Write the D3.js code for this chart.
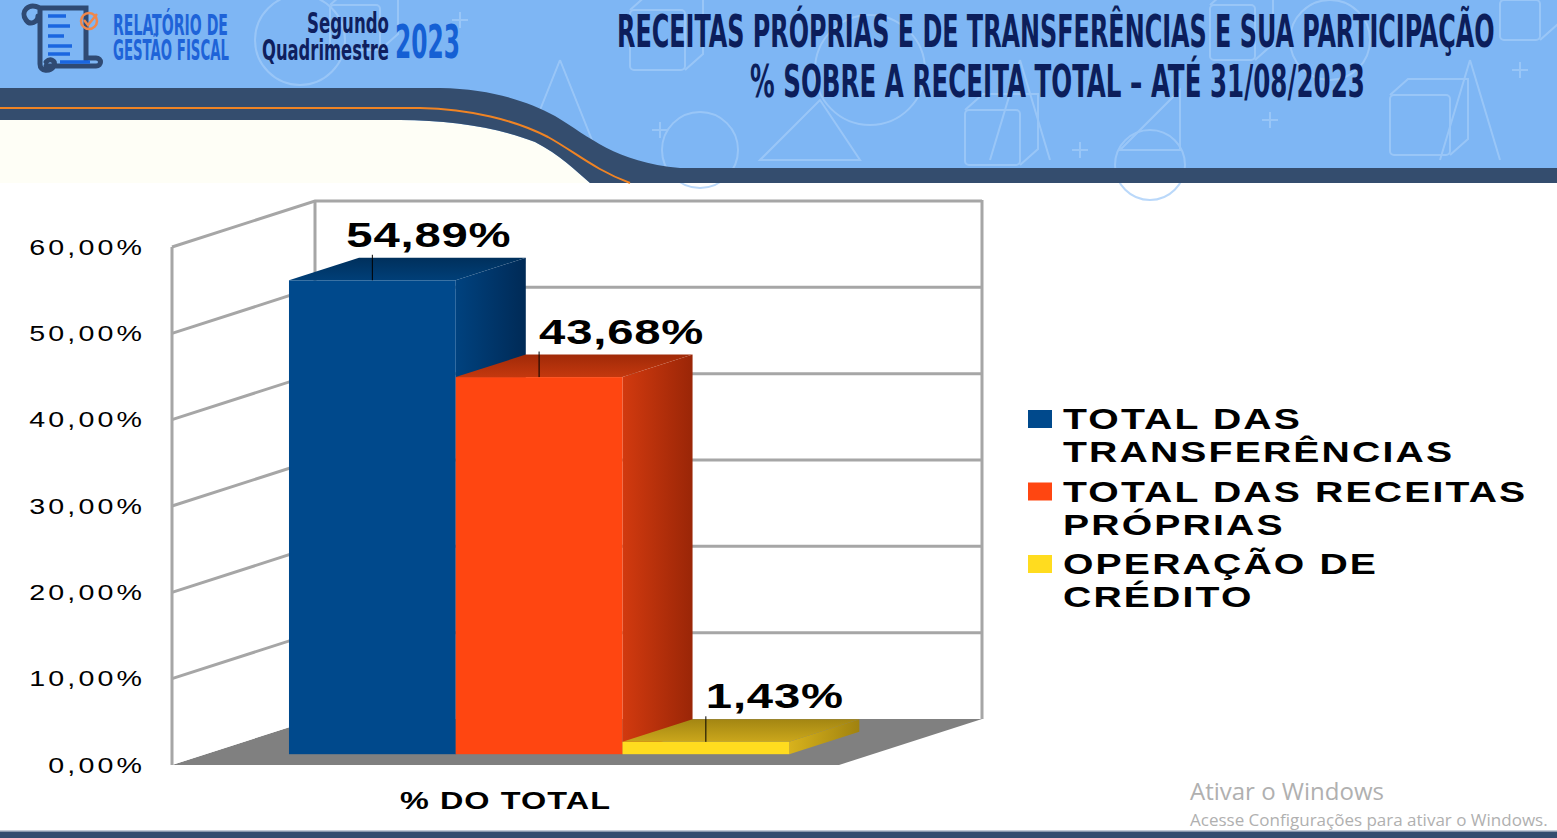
<!DOCTYPE html>
<html>
<head>
<meta charset="utf-8">
<script src="https://cdn.jsdelivr.net/npm/d3@7/dist/d3.min.js"></script>
<style>
  html, body { margin: 0; padding: 0; background: #fff; overflow: hidden; }
  svg { display: block; }
</style>
</head>
<body>
<script>
// chart data
var categories = ["% DO TOTAL"];
var series = ["TOTAL DAS TRANSFERÊNCIAS", "TOTAL DAS RECEITAS PRÓPRIAS", "OPERAÇÃO DE CRÉDITO"];
var values = [54.89, 43.68, 1.43];
var yTicks = [0, 10, 20, 30, 40, 50, 60];
var legendLines = [["TOTAL DAS", "TRANSFERÊNCIAS"], ["TOTAL DAS RECEITAS", "PRÓPRIAS"], ["OPERAÇÃO DE", "CRÉDITO"]];
var titleLines = ["RECEITAS PRÓPRIAS E DE TRANSFERÊNCIAS E SUA PARTICIPAÇÃO", "% SOBRE A RECEITA TOTAL –  ATÉ 31/08/2023"];

// colours per series: front, side (light->dark), top (front->back)
var colors = [
  {front: "#00498c", side: ["#00427f", "#002a56"], top: ["#003f78", "#00305c"]},
  {front: "#ff4611", side: ["#d23a0f", "#9a2607"], top: ["#c4380e", "#a02a08"]},
  {front: "#ffdc1f", side: ["#d8b21c", "#a0820f"], top: ["#cba71c", "#a38612"]}
];

var W = 1557, H = 838;
var ptBR = d3.formatLocale({decimal: ",", thousands: ".", grouping: [3], currency: ["R$", ""]});
var fmt2 = ptBR.format(".2f");
var pct = function(v) { return fmt2(v) + "%"; };

var svg = d3.select("body").append("svg").attr("width", W).attr("height", H);
var defs = svg.append("defs");

// ---------- header ----------
var head = svg.append("g");
head.append("rect").attr("x", 0).attr("y", 0).attr("width", W).attr("height", 183).attr("fill", "#7eb6f4");

// faint school doodles
var doodle = head.append("g").attr("fill", "none").attr("stroke", "#a3ccf9").attr("stroke-width", 2).attr("opacity", 0.75);
[[300, 40, 45], [870, 70, 55], [1330, 40, 40], [700, 150, 38], [1150, 165, 35]].forEach(function(c) {
  doodle.append("circle").attr("cx", c[0]).attr("cy", c[1]).attr("r", c[2]);
});
[[630, 10, 55, 60], [965, 110, 55, 55], [1390, 95, 60, 60], [1210, 5, 45, 55], [1500, 0, 40, 40], [330, 5, 50, 45]].forEach(function(r) {
  doodle.append("rect").attr("x", r[0]).attr("y", r[1]).attr("width", r[2]).attr("height", r[3]).attr("rx", 4);
  doodle.append("path").attr("d", "M" + r[0] + "," + r[1] + "l18,-16h" + r[2] + "v" + r[3] + "l-18,16");
});
[[660, 130], [1080, 150], [1270, 120], [1520, 70], [460, 20], [160, 120]].forEach(function(p) {
  doodle.append("path").attr("d", "M" + (p[0] - 8) + "," + p[1] + "h16M" + p[0] + "," + (p[1] - 8) + "v16");
});
doodle.append("path").attr("d", "M560,60 L520,160 M560,60 L600,160 M1020,60 L990,160 M1020,60 L1050,160 M1470,60 L1440,160 M1470,60 L1500,160");
doodle.append("path").attr("d", "M20,140 L90,110 L140,130 M760,160 L820,100 L860,160 Z M1120,150 L1180,90 L1180,150 Z");

// cream strip under the band, then the band and its orange line
head.append("path")
  .attr("d", "M0,120 L400,120 C450,120 500,128 535,142 C560,155 575,170 590,183 L0,183 Z")
  .attr("fill", "#fefef6");
head.append("path")
  .attr("d", "M0,88 L440,88 C490,89 525,100 555,116 C590,137 615,162 680,168 L1557,168 L1557,183 L590,183 C575,170 560,155 535,142 C500,128 450,120 400,120 L0,120 Z")
  .attr("fill", "#344d6e");
head.append("path")
  .attr("d", "M0,108 L420,108 C470,109 515,120 548,137 C575,152 595,170 630,183")
  .attr("fill", "none").attr("stroke", "#f08424").attr("stroke-width", 2);

// logo scroll
var logo = head.append("g");
logo.append("path")
  .attr("d", "M40,8 H86 V60 M40,8 C28,2 20,12 26,20 C30,26 38,22 38,16 M40,8 V64 C40,72 50,72 54,66 C56,60 50,58 46,62 M46,66 H96 C102,66 102,58 96,58 H86")
  .attr("fill", "none").attr("stroke", "#2f4a73").attr("stroke-width", 5).attr("stroke-linecap", "round");
[[48, 16, 18], [48, 26, 22], [48, 36, 16], [48, 46, 24], [48, 54, 22], [60, 62, 30]].forEach(function(l) {
  logo.append("line").attr("x1", l[0]).attr("x2", l[0] + l[2]).attr("y1", l[1]).attr("y2", l[1])
    .attr("stroke", "#1a66e0").attr("stroke-width", 3.5);
});
logo.append("circle").attr("cx", 89).attr("cy", 21).attr("r", 8).attr("fill", "none").attr("stroke", "#f0874a").attr("stroke-width", 2.5);
logo.append("path").attr("d", "M84,20 l4,5 l9,-11").attr("fill", "none").attr("stroke", "#f0874a").attr("stroke-width", 2.5);

// condensed header text: measure, then squeeze horizontally to the wanted width
var narrow = "'Liberation Sans Narrow', 'DejaVu Sans Condensed', 'Liberation Sans', sans-serif";
function headText(txt, x, y, len, size, color) {
  var t = head.append("text").attr("x", 0).attr("y", 0).text(txt)
    .attr("style", "font-family:" + narrow + ";font-size:" + size + "px;font-weight:bold;fill:" + color);
  var natural = t.node().getComputedTextLength();
  t.attr("transform", "translate(" + x + "," + y + ") scale(" + (len / natural) + ",1)");
}
headText("RELATÓRIO  DE", 113, 35, 115, 29, "#1e63d8");
headText("GESTÃO FISCAL", 113, 60, 116, 29, "#1e63d8");
headText("Segundo", 307, 33, 82, 29, "#0f1f5e");
headText("Quadrimestre", 262, 60, 127, 29, "#0f1f5e");
headText("2023", 395, 58, 65, 47, "#1560d4");
headText(titleLines[0], 617, 47, 878, 44, "#0c1e5b");
headText(titleLines[1], 750, 97, 615, 44, "#0c1e5b");

// ---------- 3D bar chart ----------
var DX = 143, DY = -46;       // full depth of the box
var z0 = 0.235, z1 = 0.725;   // bar depth inside the box
var y = d3.scaleLinear().domain([0, 60]).range([765, 247]);
var x0 = d3.scaleBand().domain(categories).range([172, 839]);
var x1 = d3.scaleBand().domain(series).range([0, x0.bandwidth()]).paddingInner(0).paddingOuter(0.5);
var xL = x0.range()[0], xR = x0.range()[1];
var grid = "#a6a6a6";

var chart = svg.append("g");
// floor
chart.append("path")
  .attr("d", "M" + xL + "," + y(0) + "L" + (xL + DX) + "," + (y(0) + DY) + "L" + (xR + DX) + "," + (y(0) + DY) + "L" + xR + "," + y(0) + "Z")
  .attr("fill", "#808080");
// back wall + side wall
chart.append("rect").attr("x", xL + DX).attr("y", y(60) + DY).attr("width", xR - xL).attr("height", y(0) - y(60)).attr("fill", "#fff");
chart.append("path")
  .attr("d", "M" + xL + "," + y(60) + "L" + (xL + DX) + "," + (y(60) + DY) + "L" + (xL + DX) + "," + (y(0) + DY) + "L" + xL + "," + y(0) + "Z")
  .attr("fill", "#fff");

var gl = chart.append("g").attr("stroke", grid).attr("stroke-width", 3).attr("fill", "none");
yTicks.filter(function(v) { return v > 0; }).forEach(function(v) {
  gl.append("path").attr("d", "M" + xL + "," + y(v) + "L" + (xL + DX) + "," + (y(v) + DY) + "L" + (xR + DX) + "," + (y(v) + DY));
});
gl.append("line").attr("x1", xL).attr("x2", xL).attr("y1", y(60)).attr("y2", y(0));
gl.append("line").attr("x1", xL + DX).attr("x2", xL + DX).attr("y1", y(60) + DY).attr("y2", y(0) + DY);
gl.append("line").attr("x1", xR + DX).attr("x2", xR + DX).attr("y1", y(60) + DY - 1).attr("y2", y(0) + DY);

// gradients
colors.forEach(function(c, i) {
  var gs = defs.append("linearGradient").attr("id", "side" + i).attr("x1", 0).attr("x2", 1).attr("y1", 0).attr("y2", 0);
  gs.append("stop").attr("offset", "0%").attr("stop-color", c.side[0]);
  gs.append("stop").attr("offset", "100%").attr("stop-color", c.side[1]);
  var gt = defs.append("linearGradient").attr("id", "top" + i).attr("x1", 0).attr("x2", 0).attr("y1", 1).attr("y2", 0);
  gt.append("stop").attr("offset", "0%").attr("stop-color", c.top[0]);
  gt.append("stop").attr("offset", "100%").attr("stop-color", c.top[1]);
});

var sdx = z0 * DX, sdy = z0 * DY;             // front face offset
var ddx = (z1 - z0) * DX, ddy = (z1 - z0) * DY; // bar depth
var labelNudge = [-26, 0, 0];

categories.forEach(function(cat) {
  series.forEach(function(s, i) {
    var v = values[i];
    var xf = x0(cat) + x1(s) + sdx, w = x1.bandwidth();
    var yt = y(v) + sdy, yb = y(0) + sdy;
    var bar = chart.append("g");
    bar.append("path")
      .attr("d", "M" + (xf + w) + "," + yt + "l" + ddx + "," + ddy + "V" + (yb + ddy) + "L" + (xf + w) + "," + yb + "Z")
      .attr("fill", "url(#side" + i + ")");
    bar.append("path")
      .attr("d", "M" + xf + "," + yt + "h" + w + "l" + ddx + "," + ddy + "h" + (-w) + "Z")
      .attr("fill", "url(#top" + i + ")");
    bar.append("rect").attr("x", xf).attr("y", yt).attr("width", w).attr("height", yb - yt)
      .attr("fill", colors[i].front);

    var lx = xf + w / 2, ly = yt + ddy - 3;
    chart.append("line").attr("x1", lx).attr("x2", lx).attr("y1", yt).attr("y2", ly)
      .attr("stroke", "#000").attr("stroke-width", 1);
    chart.append("text")
      .attr("transform", "translate(" + (lx + labelNudge[i]) + "," + (ly - 8) + ") scale(1.35,1)")
      .attr("style", "font-family:'Liberation Sans',Arial,sans-serif;font-size:35px;font-weight:bold;letter-spacing:0.6px;fill:#000")
      .text(pct(v));
  });

  chart.append("text")
    .attr("transform", "translate(" + (x0(cat) + x0.bandwidth() / 2) + ",809) scale(1.35,1)")
    .attr("text-anchor", "middle")
    .attr("style", "font-family:'Liberation Sans',Arial,sans-serif;font-size:24px;font-weight:bold;letter-spacing:0.8px;fill:#000")
    .text(cat);
});

// y axis on the front edge of the side wall
var yAxis = chart.append("g").attr("transform", "translate(" + xL + ",0)")
  .call(d3.axisLeft(y).tickValues(yTicks).tickSize(0).tickFormat(pct));
yAxis.select(".domain").remove();
yAxis.selectAll("text")
  .attr("x", null)
  .attr("transform", "translate(-27,0) scale(1.3,1)")
  .attr("style", "font-family:'Liberation Sans',Arial,sans-serif;font-size:22px;letter-spacing:2.4px;fill:#000");

// legend
var legend = svg.append("g");
legendLines.forEach(function(lines, i) {
  var base = 429 + i * 72.5;
  legend.append("rect").attr("x", 1028).attr("y", base - 19).attr("width", 24).attr("height", 18).attr("fill", colors[i].front);
  lines.forEach(function(t, j) {
    legend.append("text")
      .attr("transform", "translate(1063," + (base + j * 33) + ") scale(1.35,1)")
      .attr("style", "font-family:'Liberation Sans',Arial,sans-serif;font-size:29px;font-weight:bold;letter-spacing:1.6px;fill:#000")
      .text(t);
  });
});

// windows watermark + bottom border
svg.append("text").attr("x", 1190).attr("y", 800).text("Ativar o Windows")
  .attr("style", "font-family:'Open Sans','Noto Sans',sans-serif;font-size:24px;fill:#b0b0b0");
svg.append("text").attr("x", 1190).attr("y", 826).text("Acesse Configurações para ativar o Windows.")
  .attr("style", "font-family:'Open Sans','Noto Sans',sans-serif;font-size:17px;fill:#b0b0b0");
svg.append("rect").attr("x", 0).attr("y", 830).attr("width", W).attr("height", 1.5).attr("fill", "#c5ccd6");
svg.append("rect").attr("x", 0).attr("y", 831.5).attr("width", W).attr("height", 7).attr("fill", "#344d6e");
</script>
</body>
</html>
